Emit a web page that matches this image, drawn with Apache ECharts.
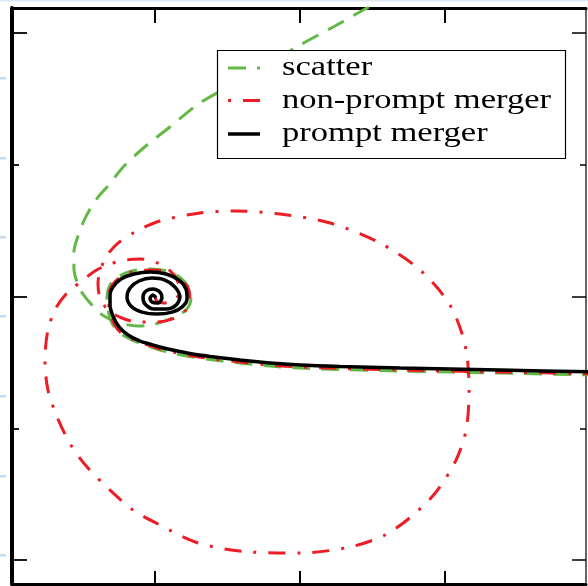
<!DOCTYPE html>
<html>
<head>
<meta charset="utf-8">
<style>
  html, body { margin: 0; padding: 0; background: #fff; }
  #chart { width: 588px; height: 586px; }
</style>
<script src="https://cdn.jsdelivr.net/npm/echarts@6/dist/echarts.min.js"></script>
</head>
<body>
<div id="chart"></div>
<script>
// Orbit tracks in the orbital plane (x, y), one pair of arrays per run.
const seriesNames = ['scatter', 'non-prompt merger', 'prompt merger'];

const scatterX = [2.069, 1.379, 0.690, 0.276, 0, -0.207, -0.414, -0.621, -0.759, -0.862, -0.966, -1.069, -1.159, -1.241, -1.297, -1.324, -1.331, -1.310, -1.255, -1.159, -1.034, -0.917, -0.821, -0.766, -0.752, -0.786, -0.883, -1.000, -1.117, -1.241, -1.352, -1.434, -1.497, -1.538, -1.559, -1.559, -1.538, -1.497, -1.448, -1.393, -1.331, -1.207, -1.055, -0.897, -0.690, -0.345, 0, 0.241, 0.462, 0.655];
const scatterY = [-0.596, -0.581, -0.565, -0.554, -0.543, -0.528, -0.505, -0.478, -0.455, -0.433, -0.406, -0.368, -0.330, -0.277, -0.201, -0.102, -0.004, 0.087, 0.148, 0.194, 0.209, 0.194, 0.140, 0.065, -0.019, -0.102, -0.163, -0.209, -0.224, -0.201, -0.148, -0.065, 0.019, 0.110, 0.216, 0.338, 0.436, 0.558, 0.664, 0.755, 0.831, 0.998, 1.150, 1.287, 1.469, 1.681, 1.909, 2.053, 2.190, 2.296];

const nonPromptX = [2.069, 1.379, 0.690, 0.276, 0, -0.207, -0.414, -0.621, -0.759, -0.862, -0.966, -1.069, -1.159, -1.241, -1.290, -1.317, -1.317, -1.290, -1.228, -1.131, -1.021, -0.910, -0.821, -0.766, -0.759, -0.800, -0.883, -1.000, -1.117, -1.228, -1.324, -1.379, -1.393, -1.372, -1.324, -1.255, -1.138, -0.966, -0.690, -0.448, -0.138, 0.207, 0.552, 0.828, 1.034, 1.138, 1.166, 1.145, 1.076, 0.938, 0.772, 0.586, 0.345, 0, -0.345, -0.703, -0.979, -1.152, -1.310, -1.462, -1.572, -1.669, -1.738, -1.759, -1.738, -1.683, -1.600, -1.503, -1.414, -1.310, -1.207, -1.103, -1.000, -0.917, -0.855, -0.828, -0.855, -0.917, -0.979, -1.000];
const nonPromptY = [-0.588, -0.573, -0.558, -0.546, -0.535, -0.520, -0.497, -0.471, -0.448, -0.425, -0.398, -0.361, -0.323, -0.269, -0.186, -0.080, 0.019, 0.095, 0.156, 0.194, 0.201, 0.186, 0.133, 0.049, -0.042, -0.118, -0.171, -0.194, -0.194, -0.163, -0.102, -0.011, 0.102, 0.216, 0.323, 0.406, 0.490, 0.573, 0.634, 0.649, 0.626, 0.558, 0.406, 0.201, -0.065, -0.368, -0.710, -1.013, -1.241, -1.484, -1.666, -1.810, -1.901, -1.947, -1.939, -1.871, -1.727, -1.620, -1.469, -1.302, -1.142, -0.930, -0.710, -0.482, -0.254, -0.087, 0.034, 0.118, 0.194, 0.247, 0.277, 0.285, 0.262, 0.216, 0.140, 0.049, -0.019, -0.049, -0.042, -0.011];

const promptX = [2.069, 1.379, 0.690, 0.276, 0, -0.207, -0.414, -0.621, -0.759, -0.862, -0.966, -1.034, -1.103, -1.186, -1.248, -1.290, -1.310, -1.310, -1.290, -1.234, -1.145, -1.034, -0.924, -0.834, -0.786, -0.779, -0.814, -0.883, -0.986, -1.090, -1.166, -1.193, -1.172, -1.110, -1.021, -0.931, -0.862, -0.828, -0.855, -0.924, -1.007, -1.069, -1.083, -1.062, -1.014, -0.966, -0.952, -0.979, -1.021, -1.034, -1.014, -0.993];
const promptY = [-0.573, -0.558, -0.543, -0.531, -0.520, -0.505, -0.482, -0.455, -0.433, -0.410, -0.383, -0.361, -0.338, -0.292, -0.231, -0.148, -0.065, 0.011, 0.072, 0.133, 0.171, 0.186, 0.171, 0.125, 0.057, -0.019, -0.080, -0.118, -0.133, -0.118, -0.072, -0.004, 0.065, 0.118, 0.140, 0.125, 0.072, -0.004, -0.065, -0.095, -0.095, -0.057, -0.004, 0.042, 0.057, 0.034, -0.011, -0.049, -0.042, -0.011, 0.011, -0.011];

// Tick positions (no labels are printed)
const xTicks = [-1, 0, 1];
const yMajorTicks = [-2, 0, 2];
const yMinorTicks = [-1, 1];

const xRange = [-1.986, 1.972];
const yRange = [-2.182, 2.190];

const zip = (xs, ys) => xs.map((x, i) => [x, ys[i]]);

const colors = ['#63b946', '#ee1c25', '#000000'];
const dashes = [[18, 11], [17, 12, 3, 12], null];
const widths = [3, 3, 3.5];
const tracks = [zip(scatterX, scatterY), zip(nonPromptX, nonPromptY), zip(promptX, promptY)];

const chart = echarts.init(document.getElementById('chart'), null, { renderer: 'canvas' });

function xAxisDef(position, lineWidth, tickLen) {
  return {
    type: 'value', position, min: xRange[0], max: xRange[1],
    axisLine: { show: true, onZero: false, lineStyle: { color: '#000', width: lineWidth } },
    axisTick: { show: true, inside: true, length: tickLen, customValues: xTicks, lineStyle: { color: '#000', width: 2 } },
    axisLabel: { show: false }, splitLine: { show: false }
  };
}
function yAxisDef(position, showLine, lineWidth, lineColor, ticks, tickLen, tickWidth) {
  return {
    type: 'value', position, min: yRange[0], max: yRange[1],
    axisLine: { show: showLine, onZero: false, lineStyle: { color: lineColor, width: lineWidth } },
    axisTick: { show: true, inside: true, length: tickLen, customValues: ticks, lineStyle: { color: '#000', width: tickWidth } },
    axisLabel: { show: false }, splitLine: { show: false }
  };
}

// Boxed legend drawn in the upper right of the frame
const legendBox = { x: 217.5, y: 50.5, w: 348, h: 108 };
const legendRows = [68, 100.5, 134];
const legendGraphics = [{
  type: 'rect', z: 100,
  shape: { x: legendBox.x, y: legendBox.y, width: legendBox.w, height: legendBox.h },
  style: { fill: '#fff', stroke: '#000', lineWidth: 1.2 }
}];
seriesNames.forEach((name, i) => {
  legendGraphics.push({
    type: 'line', z: 101,
    shape: { x1: 228, y1: legendRows[i], x2: 260, y2: legendRows[i] },
    style: {
      stroke: colors[i], lineWidth: widths[i],
      lineDash: dashes[i] || null, lineDashOffset: i === 1 ? 29 : 0
    }
  });
  legendGraphics.push({
    type: 'text', z: 101, x: 282, y: legendRows[i], scaleX: 1.28,
    style: {
      text: name, fill: '#000', font: '27px "Liberation Serif", "DejaVu Serif", serif',
      align: 'left', verticalAlign: 'middle'
    }
  });
});

// faint page-edge marks
const edgeMarks = [78, 158, 237, 316, 396, 476, 555].map(y => ({
  type: 'rect', z: 1, shape: { x: 0, y: y - 1, width: 6, height: 2.5 }, style: { fill: '#c6daf0' }
}));
edgeMarks.push({ type: 'rect', z: 1, shape: { x: 0, y: 0, width: 588, height: 1.5 }, style: { fill: '#dce8f5' } });

chart.setOption({
  animation: false,
  backgroundColor: '#fff',
  grid: { left: 12, top: 8, width: 574, height: 576, containLabel: false },
  xAxis: [xAxisDef('bottom', 3, 13), xAxisDef('top', 3, 15)],
  yAxis: [
    yAxisDef('left', true, 4, '#000', yMajorTicks, 15, 1.8),
    yAxisDef('left', false, 4, '#000', yMinorTicks, 7, 1.8),
    yAxisDef('right', true, 1.5, '#333', yMajorTicks, 14, 1.5),
    yAxisDef('right', false, 1.5, '#333', yMinorTicks, 6, 1.5)
  ],
  series: seriesNames.map((name, i) => ({
    name, type: 'line', xAxisIndex: 0, yAxisIndex: 0,
    data: tracks[i], showSymbol: false, symbol: 'none', smooth: 0.3, clip: true,
    z: 2 + i,
    lineStyle: { color: colors[i], width: widths[i], type: dashes[i] || 'solid', cap: 'butt' }
  })),
  graphic: edgeMarks.concat(legendGraphics)
});
</script>
</body>
</html>
